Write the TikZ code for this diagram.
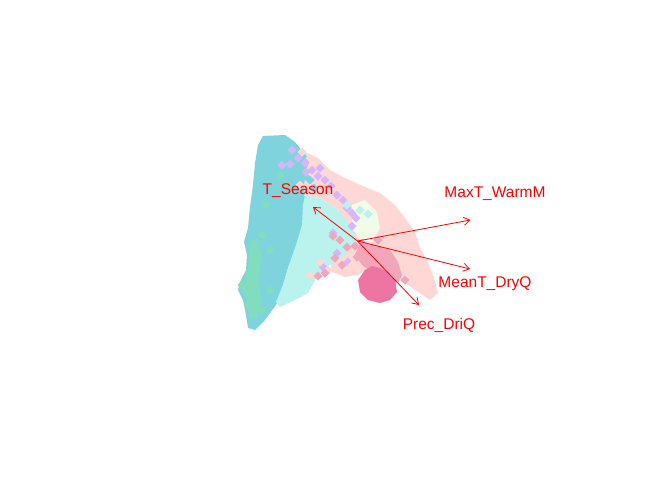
\documentclass[tikz,border=0pt]{standalone}
\usepackage{fontspec}
\setmainfont{Liberation Sans}
\usetikzlibrary{arrows.meta}
\definecolor{teal1}{RGB}{127,211,221}
\definecolor{cyan1}{RGB}{186,242,238}
\definecolor{mint1}{RGB}{128,222,190}
\definecolor{lav1}{RGB}{214,182,250}
\definecolor{pink1}{RGB}{255,216,214}
\definecolor{pale1}{RGB}{240,252,232}
\definecolor{pink2}{RGB}{242,166,186}
\definecolor{hot1}{RGB}{238,116,162}
\definecolor{red1}{RGB}{255,0,0}
\tikzset{
  vec/.style={draw=red1, line width=0.8pt, -{Straight Barb[length=6pt,width=8pt]}},
  lbl/.style={text=red1, font=\fontsize{15.5}{18}\selectfont, inner sep=0pt},
}
\newcommand{\dmd}[3]{\fill[#3] (#1,#2) +(0,-4.5) -- +(4.5,0) -- +(0,4.5) -- +(-4.5,0) -- cycle;}
\begin{document}
\begin{tikzpicture}[x=1pt,y=-1pt]
\useasboundingbox (0,0) rectangle (672,480);
\fill[white] (0,0) rectangle (672,480);
% light pink region (behind)
\fill[pink1] (300,150) -- (318,158) -- (330,170) -- (345,178) -- (365,187) -- (380,193) -- (395,205) -- (405,218) -- (415,232) -- (420,248) -- (428,262) -- (434,278) -- (438,293) -- (430,300) -- (418,292) -- (405,283) -- (395,275) -- (385,268) -- (370,268) -- (358,275) -- (345,277) -- (332,272) -- (330,262) -- (335,245) -- (350,230) -- (338,210) -- (320,198) -- (305,195) -- (300,178) -- cycle;
% teal cloud
\fill[teal1] (263,136) -- (285,135) -- (295,142) -- (303,152) -- (310,160) -- (306,170) -- (304,185) -- (305,200) -- (303,225) -- (298,242) -- (288,268) -- (278,302) -- (265,320) -- (255,330) -- (248,328) -- (246,315) -- (243,300) -- (238,290) -- (240,282) -- (246,270) -- (247,255) -- (244,242) -- (248,228) -- (250,207) -- (253,185) -- (255,163) -- (258,145) -- cycle;
% mint patches
\fill[mint1] (250,242) -- (257,238) -- (262,258) -- (258,280) -- (262,300) -- (257,318) -- (250,320) -- (247,302) -- (244,282) -- (249,262) -- cycle;
\foreach \x/\y in {245/290,242/285,255/250,262/235,266/205,280/175,285/185,270/290,262/310,248/305,270/250}{\dmd{\x}{\y}{mint1}}
% pale green patch
\fill[pale1] (352,205) -- (365,200) -- (377,212) -- (380,228) -- (372,242) -- (360,240) -- (352,228) -- cycle;
% light cyan region
\fill[cyan1] (305,195) -- (320,198) -- (338,210) -- (352,228) -- (356,240) -- (345,255) -- (325,268) -- (315,280) -- (308,293) -- (295,300) -- (280,307) -- (276,302) -- (283,285) -- (288,268) -- (296,245) -- (302,225) -- (303,205) -- cycle;
% mixed band between teal and pink
\foreach \x/\y in {296/165,285/160,310/180,314/188,305/176}{\dmd{\x}{\y}{teal1}}
\foreach \x/\y in {302/152,310/158,318/163,326/172,334/178,340/188,346/193,322/190,330/195,300/185}{\dmd{\x}{\y}{pink1}}
\foreach \x/\y in {292/150,298/158,305/163,312/170,318/176,325/180,331/186,337/195,343/200,347/208,352/213,356/218,306/172,290/164,320/168,282/165,352/226,362/243,337/253,323/267,333/233,348/262}{\dmd{\x}{\y}{lav1}}
\foreach \x/\y in {347/205,360/210,368/214}{\dmd{\x}{\y}{cyan1}}
% light pink diamonds over cyan
\foreach \x/\y in {320/262,328/270,345/272,352/265,310/275}{\dmd{\x}{\y}{pink1}}
% medium pink region and diamonds
\fill[pink2] (360,243) -- (375,245) -- (390,250) -- (398,262) -- (402,275) -- (398,283) -- (385,280) -- (372,272) -- (362,265) -- (355,255) -- cycle;
\foreach \x/\y in {333/236,340/240,347/247,355/246,357/257,335/258,318/276,325/273,342/265,378/240,405/280}{\dmd{\x}{\y}{pink2}}
% hot pink blob
\fill[hot1] (365,270) -- (372,266) -- (380,268) -- (388,272) -- (395,280) -- (397,292) -- (390,300) -- (380,303) -- (368,300) -- (360,292) -- (358,280) -- cycle;
% arrows
\coordinate (o) at (357.5,241);
\coordinate (tT) at (313,207);
\coordinate (tM) at (470.5,220);
\coordinate (tD) at (470,269);
\coordinate (tP) at (419,305);
\draw[vec] (o) -- (tT);
\draw[vec] (o) -- (tM);
\draw[vec] (o) -- (tD);
\draw[vec] (o) -- (tP);
\node[lbl] (lT) at (298,191) {T\_Season};
\node[lbl] (lM) at (495,194) {MaxT\_WarmM};
\node[lbl] (lD) at (485,284) {MeanT\_DryQ};
\node[lbl] (lP) at (439,325) {Prec\_DriQ};
\end{tikzpicture}
\end{document}
